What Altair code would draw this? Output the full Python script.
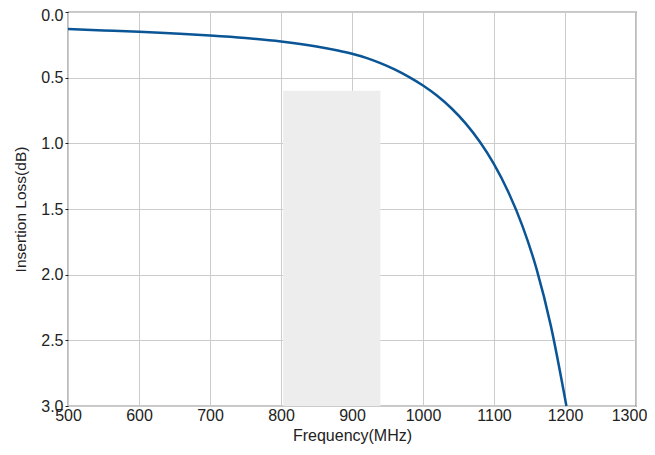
import altair as alt
import pandas as pd

freq = [500, 550, 600, 650, 700, 750, 800, 850, 880, 900, 920, 940, 960, 980, 1000, 1020, 1040, 1060, 1080, 1100, 1120, 1140, 1160, 1180, 1202]
loss = [0.13, 0.14, 0.15, 0.164, 0.179, 0.198, 0.224, 0.262, 0.293, 0.318, 0.349, 0.389, 0.437, 0.494, 0.56, 0.638, 0.733, 0.848, 0.988, 1.158, 1.368, 1.628, 1.958, 2.388, 3.0]

band_start = [803]
band_end = [940]
band_top = [0.6]
band_bottom = [3.0]

x_ticks = [500, 600, 700, 800, 900, 1000, 1100, 1200, 1300]
y_ticks = [0, 0.5, 1.0, 1.5, 2.0, 2.5, 3.0]

df = pd.DataFrame({"f": freq, "il": loss})
band = pd.DataFrame({"x": band_start, "x2": band_end, "y": band_top, "y2": band_bottom})

xscale = alt.Scale(domain=[500, 1300], nice=False, zero=False)
yscale = alt.Scale(domain=[0, 3], reverse=True, nice=False)

rect = alt.Chart(band).mark_rect(color="#ededed").encode(
    x=alt.X("x:Q", scale=xscale,
            axis=alt.Axis(title="Frequency(MHz)", values=x_ticks, format="d",
                          grid=True, gridColor="#cccccc", ticks=False, labelPadding=1,
                          domain=False,
                          labelOffset={"condition": {"test": "datum.value >= 1300", "value": -7}, "value": 0})),
    x2="x2:Q",
    y=alt.Y("y:Q", scale=yscale,
            axis=alt.Axis(title="Insertion Loss(dB)", values=y_ticks,
                          format=".1f", grid=True, gridColor="#cccccc", tickSize=3,
                          tickColor="#222222", domain=False, labelPadding=2,
                          labelOffset={"condition": {"test": "datum.value == 0", "value": 3}, "value": 0})),
    y2="y2:Q",
)

line = alt.Chart(df).mark_line(color="#0a5596", strokeWidth=2.5, interpolate="monotone").encode(
    x=alt.X("f:Q", scale=xscale),
    y=alt.Y("il:Q", scale=yscale),
)

chart = alt.layer(rect, line).properties(
    width=568, height=394,
    autosize=alt.AutoSizeParams(type="none"),
    padding={"left": 60, "top": 4, "right": 11, "bottom": 41},
).configure_view(stroke="#222222", strokeWidth=1.2).configure_axis(
    labelFont="Liberation Sans", titleFont="Liberation Sans",
    labelFontSize=16, titleFontWeight="normal",
    labelColor="#222222", titleColor="#222222",
).configure_axisY(titlePadding=12, titleFontSize=15.5, labelFlush=False).configure_axisX(
    titlePadding=4, titleFontSize=16, labelFlush=False)

chart.save("out.html", embed_options={"renderer": "svg", "actions": False})
